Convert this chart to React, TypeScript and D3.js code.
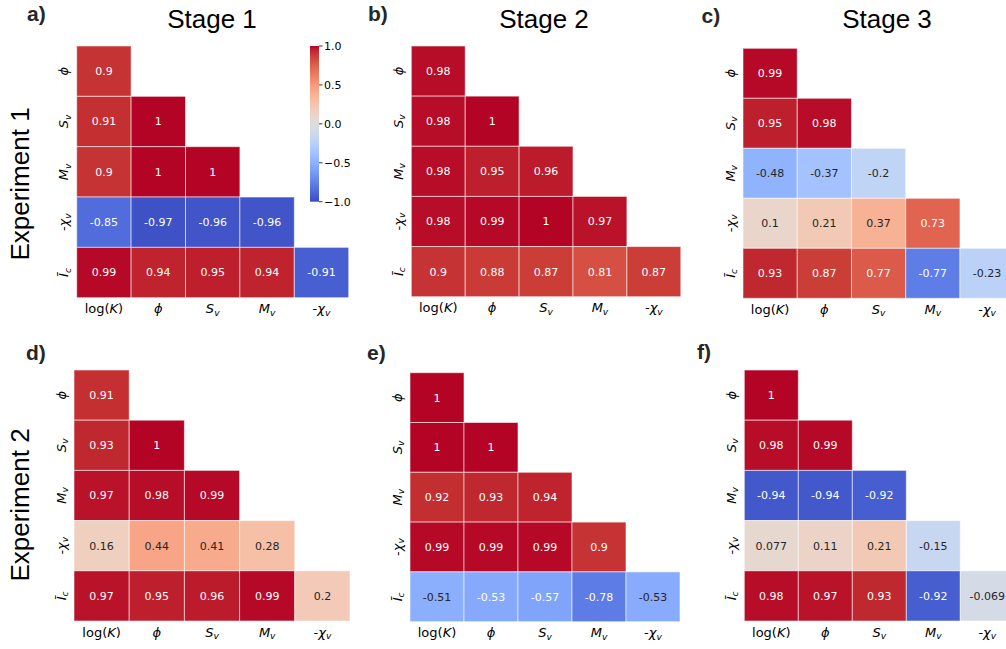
import React from "react";
import * as d3 from "d3";

// row / column labels of the lower-triangle correlation matrices
const rowKeys = ["phi", "Sv", "Mv", "chi", "Ic"];
const colKeys = ["logK", "phi", "Sv", "Mv", "chi"];

// correlation values, row by row (row i has i + 1 cells)
const stage1Exp1 = [[0.9], [0.91, 1], [0.9, 1, 1], [-0.85, -0.97, -0.96, -0.96], [0.99, 0.94, 0.95, 0.94, -0.91]];
const stage2Exp1 = [[0.98], [0.98, 1], [0.98, 0.95, 0.96], [0.98, 0.99, 1, 0.97], [0.9, 0.88, 0.87, 0.81, 0.87]];
const stage3Exp1 = [[0.99], [0.95, 0.98], [-0.48, -0.37, -0.2], [0.1, 0.21, 0.37, 0.73], [0.93, 0.87, 0.77, -0.77, -0.23]];
const stage1Exp2 = [[0.91], [0.93, 1], [0.97, 0.98, 0.99], [0.16, 0.44, 0.41, 0.28], [0.97, 0.95, 0.96, 0.99, 0.2]];
const stage2Exp2 = [[1], [1, 1], [0.92, 0.93, 0.94], [0.99, 0.99, 0.99, 0.9], [-0.51, -0.534, -0.57, -0.78, -0.527]];
const stage3Exp2 = [[1], [0.98, 0.99], [-0.94, -0.94, -0.92], [0.077, 0.11, 0.21, -0.15], [0.98, 0.97, 0.93, -0.92, -0.069]];

const stageTitles = ["Stage 1", "Stage 2", "Stage 3"];
const experimentTitles = ["Experiment 1", "Experiment 2"];
const panelLetters = ["a)", "b)", "c)", "d)", "e)", "f)"];
const colorbarTicks = [1, 0.5, 0, -0.5, -1];

// matplotlib "coolwarm" (Moreland) control points
const coolwarmRGB = [
  [59, 76, 192], [68, 90, 204], [77, 104, 215], [87, 117, 225], [98, 130, 234], [108, 142, 241],
  [119, 154, 247], [130, 165, 251], [141, 176, 254], [152, 185, 255], [163, 194, 255], [174, 201, 253],
  [184, 208, 249], [194, 213, 244], [204, 217, 238], [213, 219, 230], [221, 221, 221], [229, 216, 209],
  [236, 211, 197], [241, 204, 185], [245, 196, 173], [247, 187, 160], [247, 177, 148], [247, 166, 135],
  [244, 154, 123], [241, 141, 111], [236, 127, 99], [229, 112, 88], [222, 96, 77], [213, 80, 66],
  [203, 62, 56], [192, 40, 47], [180, 4, 38],
];

const smooth = d3
  .scaleLinear<string>()
  .domain(coolwarmRGB.map((_, i) => -1 + (2 * i) / (coolwarmRGB.length - 1)))
  .range(coolwarmRGB.map((c) => `rgb(${c[0]},${c[1]},${c[2]})`))
  .interpolate(d3.interpolateRgb)
  .clamp(true);

// matplotlib looks colours up in a 256-entry table
const color = (v: number) => {
  const t = (v + 1) / 2;
  const idx = Math.max(0, Math.min(255, Math.floor(t * 256)));
  return smooth(-1 + (2 * idx) / 255);
};

// seaborn picks dark or white annotation text by luminance
const textColor = (v: number) => {
  const c = d3.rgb(color(v));
  const lin = [c.r, c.g, c.b].map((x) => {
    const s = x / 255;
    return s <= 0.03928 ? s / 12.92 : Math.pow((s + 0.055) / 1.055, 2.4);
  });
  const lum = 0.2126 * lin[0] + 0.7152 * lin[1] + 0.0722 * lin[2];
  return lum > 0.408 ? "#262626" : "#ffffff";
};

const fmt = d3
  .formatLocale({ decimal: ".", thousands: ",", grouping: [3], currency: ["", ""], minus: "-" })
  .format(".2~g");

const MONO = "DejaVu Sans, sans-serif";
const SANS = "Liberation Sans, Arial, sans-serif";

const Label = ({ k }: { k: string }) => {
  const sub = (t: string) => (
    <tspan fontStyle="italic" fontSize="70%" dy="0.28em">
      {t}
    </tspan>
  );
  if (k === "logK")
    return (
      <>
        <tspan>log(</tspan>
        <tspan fontStyle="italic">K</tspan>
        <tspan>)</tspan>
      </>
    );
  if (k === "phi") return <tspan fontStyle="italic">ϕ</tspan>;
  if (k === "Sv")
    return (
      <>
        <tspan fontStyle="italic">S</tspan>
        {sub("v")}
      </>
    );
  if (k === "Mv")
    return (
      <>
        <tspan fontStyle="italic">M</tspan>
        {sub("v")}
      </>
    );
  if (k === "chi")
    return (
      <>
        <tspan>-</tspan>
        <tspan fontStyle="italic">χ</tspan>
        {sub("v")}
      </>
    );
  return (
    <>
      <tspan fontStyle="italic">Ī</tspan>
      {sub("c")}
    </>
  );
};

type Panel = { data: number[][]; x: [number, number]; y: [number, number] };

const panels: Panel[] = [
  { data: stage1Exp1, x: [76.7, 348.7], y: [46, 297.7] },
  { data: stage2Exp1, x: [411.3, 680.8], y: [46, 296.7] },
  { data: stage3Exp1, x: [743, 1014.2], y: [48.3, 298.3] },
  { data: stage1Exp2, x: [74, 350], y: [370, 621] },
  { data: stage2Exp2, x: [410, 680], y: [372.7, 621.7] },
  { data: stage3Exp2, x: [744.3, 1014.3], y: [370, 621] },
];

const titlePos = [212, 544, 887];
const letterPos: [number, number][] = [
  [27, 21], [368, 21], [701.5, 23], [26, 360], [367, 360], [697, 359],
];

const Heatmap = ({ p }: { p: Panel }) => {
  const x = d3.scaleBand().domain(colKeys).range(p.x);
  const y = d3.scaleBand().domain(rowKeys).range(p.y);
  return (
    <g>
      {p.data.map((row, i) =>
        row.map((v, j) => {
          const cx = x(colKeys[j])!;
          const cy = y(rowKeys[i])!;
          return (
            <g key={`${i}-${j}`}>
              <rect
                x={cx}
                y={cy}
                width={x.bandwidth()}
                height={y.bandwidth()}
                fill={color(v)}
                stroke="rgba(255,255,255,0.55)"
                strokeWidth={1}
              />
              <text
                x={cx + x.bandwidth() / 2}
                y={cy + y.bandwidth() / 2}
                dy="0.36em"
                textAnchor="middle"
                fontFamily={MONO}
                fontSize={11}
                fill={textColor(v)}
              >
                {fmt(v)}
              </text>
            </g>
          );
        })
      )}
      {colKeys.map((k) => (
        <text
          key={k}
          x={x(k)! + x.bandwidth() / 2}
          y={p.y[1] + 15.5}
          textAnchor="middle"
          fontFamily={MONO}
          fontSize={13}
          fill="#000"
        >
          <Label k={k} />
        </text>
      ))}
      {rowKeys.map((k) => (
        <text
          key={k}
          transform={`translate(${p.x[0] - 8.5},${y(k)! + y.bandwidth() / 2}) rotate(-90)`}
          textAnchor="middle"
          fontFamily={MONO}
          fontSize={13}
          fill="#000"
        >
          <Label k={k} />
        </text>
      ))}
    </g>
  );
};

const Colorbar = () => {
  const cb = d3.scaleLinear().domain([-1, 1]).range([201.7, 46]);
  const x0 = 310;
  const w = 9;
  const stops = d3.range(0, 1.0001, 1 / 32);
  return (
    <g>
      <defs>
        <linearGradient id="cw" x1="0" y1="1" x2="0" y2="0">
          {stops.map((t) => (
            <stop key={t} offset={t} stopColor={smooth(-1 + 2 * t)} />
          ))}
        </linearGradient>
      </defs>
      <rect x={x0} y={cb(1)} width={w} height={cb(-1) - cb(1)} fill="url(#cw)" />
      {colorbarTicks.map((t) => (
        <g key={t}>
          <line x1={x0 + w} x2={x0 + w + 3.5} y1={cb(t)} y2={cb(t)} stroke="#000" strokeWidth={0.8} />
          <text x={x0 + w + 5} y={cb(t)} dy="0.36em" fontFamily={MONO} fontSize={11} fill="#000">
            {d3.format(".1f")(t)}
          </text>
        </g>
      ))}
    </g>
  );
};

export default function App() {
  return (
    <svg width={1006} height={649} style={{ position: "absolute", left: 0, top: 0 }}>
      <rect width={1006} height={649} fill="#fff" />
      {panels.map((p, i) => (
        <Heatmap key={i} p={p} />
      ))}
      <Colorbar />
      {stageTitles.map((t, i) => (
        <text key={t} x={titlePos[i]} y={27.5} textAnchor="middle" fontFamily={SANS} fontSize={26} fill="#000">
          {t}
        </text>
      ))}
      {experimentTitles.map((t, i) => (
        <text
          key={t}
          transform={`translate(29,${i === 0 ? 184 : 505}) rotate(-90)`}
          textAnchor="middle"
          fontFamily={SANS}
          fontSize={26}
          fill="#000"
        >
          {t}
        </text>
      ))}
      {panelLetters.map((t, i) => (
        <text key={t} x={letterPos[i][0]} y={letterPos[i][1]} fontFamily={SANS} fontWeight="bold" fontSize={21} fill="#262626">
          {t}
        </text>
      ))}
    </svg>
  );
}
